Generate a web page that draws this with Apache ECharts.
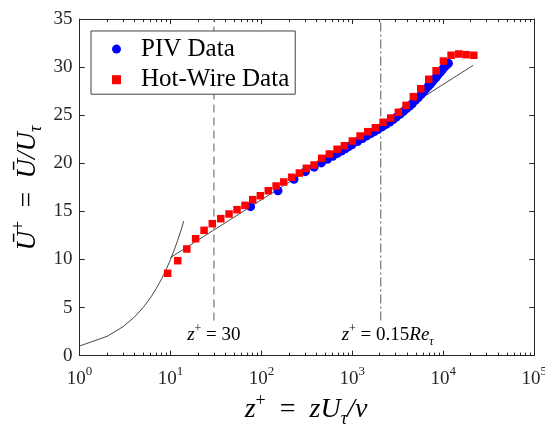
<!DOCTYPE html>
<html><head><meta charset="utf-8">
<script src="https://cdn.jsdelivr.net/npm/echarts@6/dist/echarts.min.js"></script>
<style>html,body{margin:0;padding:0;background:#fff}#c{width:545px;height:426px}</style>
</head><body><div id="c"></div>
<script>
// ---- data ----
const hotWireZ = [9.3, 12.0, 15.1, 18.9, 23.4, 28.8, 35.7, 44.0, 53.9, 66.0, 80.2, 97.3, 119, 145, 176, 215, 261, 312, 379, 460, 558, 679, 817, 1000, 1216, 1477, 1790, 2177, 2644, 3209, 3896, 4691, 5655, 6922, 8340, 10030, 12190, 14820, 17820, 21670];
const hotWireU = [8.56, 9.87, 11.09, 12.16, 13.03, 13.72, 14.24, 14.73, 15.18, 15.63, 16.22, 16.63, 17.15, 17.64, 18.06, 18.55, 18.99, 19.48, 19.83, 20.52, 20.97, 21.46, 21.83, 22.32, 22.84, 23.29, 23.70, 24.27, 24.71, 25.31, 26.03, 26.93, 27.76, 28.74, 29.63, 30.64, 31.24, 31.37, 31.30, 31.24];
const pivZ = [76, 152, 228, 304, 380, 456, 532, 608, 684, 760, 836, 912, 988, 1140, 1292, 1444, 1596, 1748, 1900, 2128, 2356, 2584, 2812, 3040, 3344, 3648, 3952, 4256, 4560, 4940, 5320, 5700, 6080, 6460, 6840, 7220, 7600, 7980, 8360, 8740, 9120, 9500, 9880, 10260, 10640, 11020, 11400];
const pivU = [15.49, 17.15, 18.34, 19.13, 19.60, 20.04, 20.42, 20.74, 21.03, 21.28, 21.51, 21.73, 21.92, 22.27, 22.57, 22.85, 23.09, 23.31, 23.51, 23.79, 24.05, 24.30, 24.55, 24.80, 25.10, 25.40, 25.70, 25.95, 26.20, 26.55, 26.85, 27.15, 27.45, 27.75, 28.00, 28.25, 28.50, 28.75, 28.95, 29.20, 29.40, 29.60, 29.80, 30.00, 30.15, 30.30, 30.40];
const viscousZ = [1, 2, 3, 4, 5, 6, 7, 8, 9, 10, 11, 12, 13, 14];
const viscousU = [1, 2, 3, 4, 5, 6, 7, 8, 9, 10, 11, 12, 13, 14];
const logLawZ = [10, 21400];
const logLawU = [10.2, 30.2];
const refLineZ = [30, 2050];          // z+ = 30 and z+ = 0.15 Re_tau
const refLineU = [3.65, 35];          // vertical extent of the reference lines
const annotationU = 2.1;
const xMajorTicks = [1, 10, 100, 1000, 10000, 100000];
const xTickExponents = ['0', '1', '2', '3', '4', '5'];
const xMinorTicks = [2,3,4,5,6,7,8,9, 20,30,40,50,60,70,80,90, 200,300,400,500,600,700,800,900, 2000,3000,4000,5000,6000,7000,8000,9000, 20000,30000,40000,50000,60000,70000,80000,90000];
const yMin = 0, yMax = 35, yStep = 5;
const seriesNames = ['PIV Data', 'Hot-Wire Data'];

const pairs = (xs, ys) => xs.map((x, i) => [x, ys[i]]);
const AX = '#262626';
const SERIF = 'Liberation Serif';

const chart = echarts.init(document.getElementById('c'), null, {renderer: 'canvas'});

const baseX = {type: 'log', logBase: 10, min: 1, max: 100000, gridIndex: 0, splitLine: {show: false}};
const option = {
  animation: false,
  backgroundColor: '#fff',
  grid: {left: 79.6, right: 10.8, top: 19.1, bottom: 70.4, containLabel: false, outerBoundsMode: 'none'},
  xAxis: [
    Object.assign({}, baseX, {position: 'bottom',
      axisLine: {show: true, lineStyle: {color: AX, width: 1}},
      axisTick: {show: true, inside: true, length: 5, lineStyle: {color: AX}, customValues: xMajorTicks},
      axisLabel: {show: true, margin: 9, customValues: xMajorTicks,
        formatter: (v) => { const i = xMajorTicks.findIndex(t => Math.abs(t - v) / t < 1e-6); return '{b|10}{s|' + (i >= 0 ? xTickExponents[i] : '') + '}'; },
        rich: {b: {fontFamily: SERIF, fontSize: 19, color: AX, lineHeight: 24, verticalAlign: 'bottom'},
               s: {fontFamily: SERIF, fontSize: 13, color: AX, lineHeight: 13, verticalAlign: 'top'}}}}),
    Object.assign({}, baseX, {position: 'bottom', axisLine: {show: false},
      axisTick: {show: true, inside: true, length: 3, lineStyle: {color: AX}, customValues: xMinorTicks},
      axisLabel: {show: false}}),
    Object.assign({}, baseX, {position: 'top',
      axisLine: {show: true, lineStyle: {color: AX, width: 1}},
      axisTick: {show: true, inside: true, length: 5, lineStyle: {color: AX}, customValues: xMajorTicks},
      axisLabel: {show: false}}),
    Object.assign({}, baseX, {position: 'top', axisLine: {show: false},
      axisTick: {show: true, inside: true, length: 3, lineStyle: {color: AX}, customValues: xMinorTicks},
      axisLabel: {show: false}})
  ],
  yAxis: [
    {type: 'value', min: yMin, max: yMax, interval: yStep, position: 'left', gridIndex: 0,
     splitLine: {show: false},
     axisLine: {show: true, lineStyle: {color: AX, width: 1}},
     axisTick: {show: true, inside: true, length: 5, lineStyle: {color: AX}},
     axisLabel: {margin: 7, fontFamily: SERIF, fontSize: 19, color: AX}},
    {type: 'value', min: yMin, max: yMax, interval: yStep, position: 'right', gridIndex: 0,
     splitLine: {show: false},
     axisLine: {show: true, lineStyle: {color: AX, width: 1}},
     axisTick: {show: true, inside: true, length: 5, lineStyle: {color: AX}},
     axisLabel: {show: false}}
  ],
  legend: {
    orient: 'vertical', left: 91, top: 31,
    data: seriesNames,
    itemWidth: 9, itemHeight: 9, itemGap: 5.6,
    padding: [5.6, 6, 2, 21],
    borderColor: '#404040', borderWidth: 1, backgroundColor: '#fff',
    textStyle: {fontFamily: SERIF, fontSize: 25, color: '#000', lineHeight: 25, padding: [0, 0, 0, 15]},
    selectedMode: false
  },
  series: [
    {name: 'viscous', type: 'line', data: pairs(viscousZ, viscousU), showSymbol: false, symbol: 'none',
     lineStyle: {color: '#333', width: 0.9}, z: 1, silent: true},
    {name: 'loglaw', type: 'line', data: pairs(logLawZ, logLawU), showSymbol: false, symbol: 'none',
     lineStyle: {color: '#333', width: 0.9}, z: 1, silent: true},
    {name: 'ref30', type: 'line', data: [[refLineZ[0], refLineU[0]], [refLineZ[0], refLineU[1]]], symbol: 'none',
     lineStyle: {color: '#7f7f7f', width: 1.3, type: [8, 5]}, z: 1, silent: true},
    {name: 'refRe', type: 'line', data: [[refLineZ[1], refLineU[0]], [refLineZ[1], refLineU[1]]], symbol: 'none',
     lineStyle: {color: '#7f7f7f', width: 1.3, type: [9, 3, 2, 3]}, z: 1, silent: true},
    {name: seriesNames[0], type: 'scatter', data: pairs(pivZ, pivU), symbol: 'circle', symbolSize: 9,
     itemStyle: {color: '#0000ff', opacity: 1}, z: 2},
    {name: seriesNames[1], type: 'scatter', data: pairs(hotWireZ, hotWireU), symbol: 'rect', symbolSize: 7.5,
     itemStyle: {color: '#ff0000', opacity: 1}, z: 3}
  ]
};
chart.setOption(option);

// ---- annotations & axis titles ----
const p30 = chart.convertToPixel({gridIndex: 0}, [refLineZ[0], annotationU]);
const pRe = chart.convertToPixel({gridIndex: 0}, [refLineZ[1], annotationU]);
const mathRich = (fs) => ({
  i: {fontFamily: SERIF, fontStyle: 'italic', fontSize: fs, color: '#000', lineHeight: Math.round(fs * 1.3)},
  r: {fontFamily: SERIF, fontSize: fs, color: '#000', lineHeight: Math.round(fs * 1.3)},
  sup: {fontFamily: SERIF, fontSize: Math.round(fs * 0.65), color: '#000', lineHeight: Math.round(fs * 0.75), verticalAlign: 'top'},
  sub: {fontFamily: SERIF, fontStyle: 'italic', fontSize: Math.round(fs * 0.65), color: '#000', lineHeight: Math.round(fs * 0.75), verticalAlign: 'bottom'}
});
chart.setOption({
  graphic: [
    {type: 'text', x: p30[0], y: p30[1], style: {text: '{i|z}{sup|+}{r| = 30}', rich: mathRich(19), align: 'center', verticalAlign: 'middle'}},
    {type: 'text', x: pRe[0] - 39, y: pRe[1], style: {text: '{i|z}{sup|+}{r| = 0.15}{i|Re}{sub|τ}', rich: mathRich(19), align: 'left', verticalAlign: 'middle'}},
    {type: 'text', x: 306, y: 410, style: {text: '{i|z}{sup|+}{r|  =  }{i|zU}{sub|τ}{i|/ν}', rich: mathRich(28), align: 'center', verticalAlign: 'middle'}},
    {type: 'text', x: 28, y: 188, rotation: Math.PI / 2, style: {text: '{i|Ū}{sup|+}{r|  =  }{i|Ū/U}{sub|τ}', rich: mathRich(27), align: 'center', verticalAlign: 'middle'}}
  ]
});
</script></body></html>
